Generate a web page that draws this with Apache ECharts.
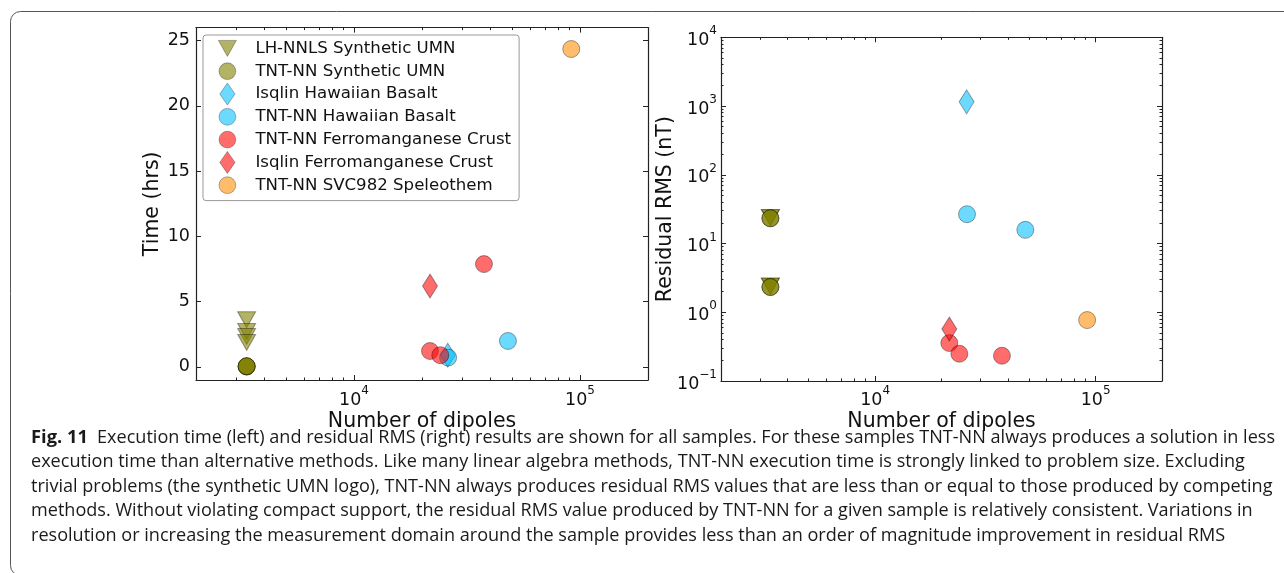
<!DOCTYPE html>
<html><head><meta charset="utf-8">
<script src="https://cdn.jsdelivr.net/npm/echarts@6/dist/echarts.min.js"></script>
<style>html,body{margin:0;padding:0;background:#fff}#c{width:1284px;height:573px}</style>
</head><body><div id="c"></div><script>
// ---------- data ----------
const seriesNames = ['LH-NNLS Synthetic UMN','TNT-NN Synthetic UMN','Isqlin Hawaiian Basalt','TNT-NN Hawaiian Basalt','TNT-NN Ferromanganese Crust','Isqlin Ferromanganese Crust','TNT-NN SVC982 Speleothem'];
const lhnnlsUmnDipoles = [3350, 3350, 3350, 3350];
const lhnnlsUmnTime = [3.62, 2.72, 2.34, 1.88];
const lhnnlsUmnRms = [24.0, 23.8, 2.42, 2.40];
const tntUmnDipoles = [3350, 3350, 3350, 3350];
const tntUmnTime = [0.03, 0.04, 0.05, 0.06];
const tntUmnRms = [23.4, 23.2, 2.34, 2.32];
const isqlinHawDipoles = [26000];
const isqlinHawTime = [0.9];
const isqlinHawRms = [1150];
const tntHawDipoles = [26100, 48000];
const tntHawTime = [0.72, 1.99];
const tntHawRms = [26.7, 15.8];
const tntFerroDipoles = [21700, 24100, 37600];
const tntFerroTime = [1.22, 0.9, 7.88];
const tntFerroRms = [0.356, 0.249, 0.233];
const isqlinFerroDipoles = [21700];
const isqlinFerroTime = [6.2];
const isqlinFerroRms = [0.57];
const tntSvcDipoles = [91500];
const tntSvcTime = [24.36];
const tntSvcRms = [0.77];

const xMajorTicks = [10000, 100000];
const xMinorTicks = [3000,4000,5000,6000,7000,8000,9000,20000,30000,40000,50000,60000,70000,80000,90000];
const timeTicks = [0, 5, 10, 15, 20, 25];
const rmsMajorTicks = [0.1, 1, 10, 100, 1000, 10000];
const rmsMinorTicks = [0.2,0.3,0.4,0.5,0.6,0.7,0.8,0.9,2,3,4,5,6,7,8,9,20,30,40,50,60,70,80,90,200,300,400,500,600,700,800,900,2000,3000,4000,5000,6000,7000,8000,9000];

const captionFig = 'Fig. 11';
const captionLines = [
 'Execution time (left) and residual RMS (right) results are shown for all samples. For these samples TNT-NN always produces a solution in less',
 'execution time than alternative methods. Like many linear algebra methods, TNT-NN execution time is strongly linked to problem size. Excluding',
 'trivial problems (the synthetic UMN logo), TNT-NN always produces residual RMS values that are less than or equal to those produced by competing',
 'methods. Without violating compact support, the residual RMS value produced by TNT-NN for a given sample is relatively consistent. Variations in',
 'resolution or increasing the measurement domain around the sample provides less than an order of magnitude improvement in residual RMS'
];

// ---------- styling ----------
const FONT = 'DejaVu Sans';
const axisColor = '#222';
const olive = 'rgba(128,128,0,0.75)', cyan = 'rgba(0,191,255,0.72)', red = 'rgba(255,0,0,0.72)', orange = 'rgba(255,140,0,0.72)';
const edge = 'rgba(0,0,0,0.45)';

function sup(v){ const e = Math.round(Math.log10(v)); return '{b|10}{s|' + (e < 0 ? '\u2212' + (-e) : e) + '}'; }
const rich = {
  b:{fontSize:17.5, lineHeight:24, verticalAlign:'bottom', fontFamily:FONT, color:'#111'},
  s:{fontSize:12, lineHeight:12, verticalAlign:'top', fontFamily:FONT, color:'#111'}
};
const nameStyle = {fontSize:20.5, color:'#111', fontFamily:FONT};

function xAxes(gridIndex, nameGap, margin){
  const base = {type:'log', logBase:10, gridIndex, min:2000, max:200000, splitLine:{show:false}, axisPointer:{show:false},
    axisLine:{show:true, onZero:false, lineStyle:{color:axisColor, width:1.2}}};
  const major = {inside:true, length:5, customValues:xMajorTicks, lineStyle:{color:axisColor, width:1}};
  const minor = {inside:true, length:2.5, customValues:xMinorTicks, lineStyle:{color:axisColor, width:1}};
  return [
    Object.assign({}, base, {position:'bottom', name:'Number of dipoles', nameLocation:'middle', nameGap, nameMoveOverlap:false, nameTextStyle:nameStyle,
      axisTick:major, axisLabel:{customValues:xMajorTicks, formatter:sup, rich, margin}}),
    Object.assign({}, base, {position:'top', axisTick:major, axisLabel:{show:false}}),
    Object.assign({}, base, {position:'bottom', axisLine:{show:false, onZero:false}, axisTick:minor, axisLabel:{show:false}}),
    Object.assign({}, base, {position:'top', axisLine:{show:false, onZero:false}, axisTick:minor, axisLabel:{show:false}})
  ];
}

const yLine = {show:true, onZero:false, lineStyle:{color:axisColor, width:1.2}};
const yAxes = [
  {type:'value', gridIndex:0, position:'left', min:-1, max:26, splitLine:{show:false}, axisLine:yLine,
   name:'Time (hrs)', nameLocation:'middle', nameGap:33, nameMoveOverlap:false, nameTextStyle:nameStyle,
   axisTick:{inside:true, length:5, customValues:timeTicks, lineStyle:{color:axisColor}},
   axisLabel:{customValues:timeTicks, fontSize:17.5, color:'#111', fontFamily:FONT, margin:6}},
  {type:'value', gridIndex:0, position:'right', min:-1, max:26, splitLine:{show:false}, axisLine:yLine,
   axisTick:{inside:true, length:5, customValues:timeTicks, lineStyle:{color:axisColor}}, axisLabel:{show:false}},
  {type:'log', logBase:10, gridIndex:1, position:'left', min:0.1, max:10000, splitLine:{show:false}, axisLine:yLine,
   name:'Residual RMS (nT)', nameLocation:'middle', nameGap:45, nameMoveOverlap:false, nameTextStyle:nameStyle,
   axisTick:{inside:true, length:5, customValues:rmsMajorTicks, lineStyle:{color:axisColor}},
   axisLabel:{customValues:rmsMajorTicks, formatter:sup, rich, margin:4}},
  {type:'log', logBase:10, gridIndex:1, position:'right', min:0.1, max:10000, splitLine:{show:false}, axisLine:yLine,
   axisTick:{inside:true, length:5, customValues:rmsMajorTicks, lineStyle:{color:axisColor}}, axisLabel:{show:false}},
  {type:'log', logBase:10, gridIndex:1, position:'left', min:0.1, max:10000, splitLine:{show:false}, axisLine:{show:false, onZero:false},
   axisTick:{inside:true, length:2.5, customValues:rmsMinorTicks, lineStyle:{color:axisColor}}, axisLabel:{show:false}},
  {type:'log', logBase:10, gridIndex:1, position:'right', min:0.1, max:10000, splitLine:{show:false}, axisLine:{show:false, onZero:false},
   axisTick:{inside:true, length:2.5, customValues:rmsMinorTicks, lineStyle:{color:axisColor}}, axisLabel:{show:false}}
];

function pairs(xs, ys){ return xs.map((x, i) => [x, ys[i]]); }
const TRI = 'triangle', DIA = 'diamond', CIR = 'circle';
const defs = [
  {name:seriesNames[0], symbol:TRI, size:[18,16], rot:180, color:olive, x:lhnnlsUmnDipoles, t:lhnnlsUmnTime, r:lhnnlsUmnRms},
  {name:seriesNames[1], symbol:CIR, size:17, rot:0, color:olive, x:tntUmnDipoles, t:tntUmnTime, r:tntUmnRms},
  {name:seriesNames[2], symbol:DIA, size:[15,24], rot:0, color:cyan, x:isqlinHawDipoles, t:isqlinHawTime, r:isqlinHawRms},
  {name:seriesNames[3], symbol:CIR, size:17, rot:0, color:cyan, x:tntHawDipoles, t:tntHawTime, r:tntHawRms},
  {name:seriesNames[4], symbol:CIR, size:17, rot:0, color:red, x:tntFerroDipoles, t:tntFerroTime, r:tntFerroRms},
  {name:seriesNames[5], symbol:DIA, size:[15,24], rot:0, color:red, x:isqlinFerroDipoles, t:isqlinFerroTime, r:isqlinFerroRms},
  {name:seriesNames[6], symbol:CIR, size:17, rot:0, color:orange, x:tntSvcDipoles, t:tntSvcTime, r:tntSvcRms}
];
const series = [];
defs.forEach(d => {
  const common = {type:'scatter', name:d.name, symbol:d.symbol, symbolSize:d.size, symbolRotate:d.rot,
    itemStyle:{color:d.color, borderColor:edge, borderWidth:1}, emphasis:{disabled:true}, silent:true};
  series.push(Object.assign({}, common, {xAxisIndex:0, yAxisIndex:0, data:pairs(d.x, d.t)}));
  series.push(Object.assign({}, common, {xAxisIndex:4, yAxisIndex:2, data:pairs(d.x, d.r)}));
});

// legend icons in a 46 x 22 frame (corner moves fix the frame)
const F = 'path://M0,0M46,22';
const CIRCLE_ICON = F + 'M31.4,11A8.4,8.4,0,1,1,14.6,11A8.4,8.4,0,1,1,31.4,11Z';
const legendIcons = [
  F + 'M14,3L32,3L23,19Z',
  CIRCLE_ICON,
  F + 'M23,-0.5L31,11L23,22.5L15,11Z',
  CIRCLE_ICON,
  CIRCLE_ICON,
  F + 'M23,-0.5L31,11L23,22.5L15,11Z',
  CIRCLE_ICON
];

// caption font fitting
const capFamily = 'Open Sans';
const ctx = document.createElement('canvas').getContext('2d');
function w(text, size, weight){ ctx.font = (weight||'normal') + ' ' + size + 'px "' + capFamily + '"'; return ctx.measureText(text).width; }
const targets = [1165, 1210, 1251, 1232, 1196];
let nat = 0, tgt = 0;
captionLines.forEach((l, i) => { nat += w(l, 16); tgt += targets[i]; });
const capSize = 16 * tgt / nat;
const figSize = 16 * 57 / w(captionFig, 16, 'bold');
const lineY = [437.5, 462, 486.5, 511, 535.5];
const graphics = [
  {type:'rect', silent:true, z:-10, shape:{x:10.5, y:11.5, width:1400, height:564, r:10}, style:{fill:'none', stroke:'#555', lineWidth:1}},
  {type:'text', silent:true, style:{text:captionFig, x:31, y:lineY[0], verticalAlign:'middle', fontFamily:capFamily, fontWeight:'bold', fontSize:figSize, fill:'#1a1a1a'}}
];
captionLines.forEach((l, i) => {
  graphics.push({type:'text', silent:true, style:{text:l, x: i === 0 ? 97 : 31, y:lineY[i], verticalAlign:'middle', fontFamily:capFamily, fontSize:capSize, fill:'#1a1a1a'}});
});

const chart = echarts.init(document.getElementById('c'), null, {renderer:'canvas'});
chart.setOption({
  animation:false,
  backgroundColor:'#fff',
  textStyle:{fontFamily:FONT},
  grid:[
    {left:196, top:27.6, width:452, height:352.4, containLabel:false},
    {left:721, top:37.3, width:441, height:343.7, containLabel:false}
  ],
  xAxis: xAxes(0, 31, 5).concat(xAxes(1, 30, 4)),
  yAxis: yAxes,
  legend:{show:true, orient:'vertical', left:203, top:35, itemWidth:46, itemHeight:22, itemGap:0,
    padding:[2, 8, 4, 1], borderColor:'#999', borderWidth:1, borderRadius:3, backgroundColor:'#fff',
    selectedMode:false, itemStyle:{borderWidth:0.8},
    textStyle:{fontFamily:FONT, fontSize:16.6, color:'#111'},
    data: seriesNames.map((n, i) => ({name:n, icon:legendIcons[i]}))},
  tooltip:{show:false},
  series,
  graphic: graphics
});
</script></body></html>
